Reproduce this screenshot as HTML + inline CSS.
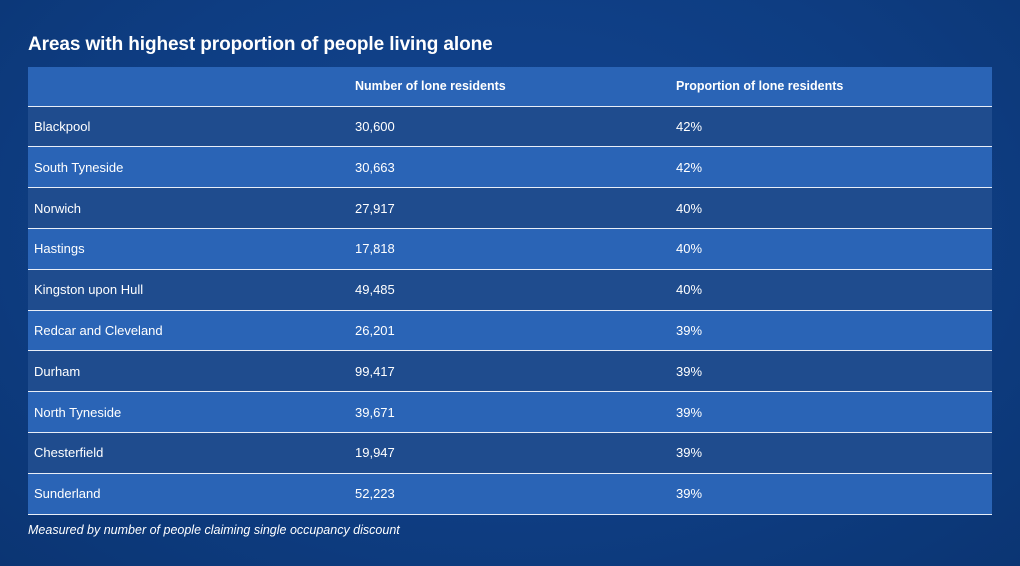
<!DOCTYPE html>
<html><head><style>
body{margin:0;width:1020px;height:566px;background:radial-gradient(ellipse at 50% 40%,#134591 0%,#0e3d82 60%,#0b3573 100%);font-family:"Liberation Sans",sans-serif;color:#fff;position:relative;overflow:hidden}
h1{position:absolute;left:28px;top:34px;margin:0;font-size:19px;font-weight:bold;letter-spacing:-0.1px}
table{position:absolute;left:28px;top:67px;width:964px;border-collapse:collapse;font-size:13px}
td,th{padding:0;height:39.8px;border-bottom:1px solid #e8eef8;text-align:left}
th{font-weight:bold;font-size:12.5px;height:38.6px}
tr{background:#2a64b6}
tr.d{background:#1f4c8e}
td:first-child,th:first-child{padding-left:6px;width:321px}
td:nth-child(2),th:nth-child(2){width:321px}
.n{position:absolute;left:28px;top:523px;font-size:12.5px;font-style:italic}
</style></head><body>
<h1>Areas with highest proportion of people living alone</h1>
<table>
<tr><th></th><th>Number of lone residents</th><th>Proportion of lone residents</th></tr>
<tr class="d"><td>Blackpool</td><td>30,600</td><td>42%</td></tr>
<tr><td>South Tyneside</td><td>30,663</td><td>42%</td></tr>
<tr class="d"><td>Norwich</td><td>27,917</td><td>40%</td></tr>
<tr><td>Hastings</td><td>17,818</td><td>40%</td></tr>
<tr class="d"><td>Kingston upon Hull</td><td>49,485</td><td>40%</td></tr>
<tr><td>Redcar and Cleveland</td><td>26,201</td><td>39%</td></tr>
<tr class="d"><td>Durham</td><td>99,417</td><td>39%</td></tr>
<tr><td>North Tyneside</td><td>39,671</td><td>39%</td></tr>
<tr class="d"><td>Chesterfield</td><td>19,947</td><td>39%</td></tr>
<tr><td>Sunderland</td><td>52,223</td><td>39%</td></tr>
</table>
<div class="n">Measured by number of people claiming single occupancy discount</div>
</body></html>
